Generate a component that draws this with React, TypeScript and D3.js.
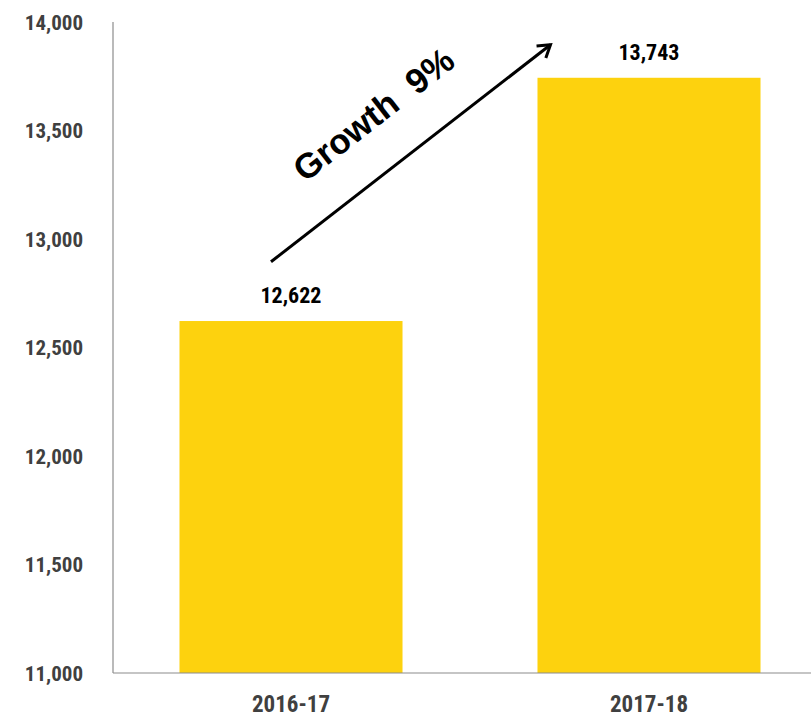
import React from "react";
import * as d3 from "d3";

const categories = ["2016-17", "2017-18"];
const values = [12622, 13743];
const valueLabels = ["12,622", "13,743"];
const yTicks = [11000, 11500, 12000, 12500, 13000, 13500, 14000];
const annotation = "Growth  9%";

const W = 811;
const H = 717;
const left = 113;
const top = 22;
const bottom = 673;

export default function App() {
  const y = d3.scaleLinear().domain([11000, 14000]).range([bottom, top]);
  const x = d3
    .scaleBand<string>()
    .domain(categories)
    .range([112, 828])
    .paddingInner(0.377)
    .paddingOuter(0.1885);
  const fmt = d3.format(",");
  const narrow = "'Liberation Sans Narrow', 'Arial Narrow', 'Roboto Condensed', sans-serif";

  const x0 = (x(categories[0]) as number) + x.bandwidth() / 2 - 20;
  const y0 = y(12895);
  const x1 = (x(categories[1]) as number) + 13;
  const y1 = y(13895);
  const ang = Math.atan2(y1 - y0, x1 - x0);
  const angDeg = (ang * 180) / Math.PI;
  const headLen = 14;
  const hA = Math.PI / 5.5;
  const h1 = [x1 - headLen * Math.cos(ang - hA), y1 - headLen * Math.sin(ang - hA)];
  const h2 = [x1 - headLen * Math.cos(ang + hA), y1 - headLen * Math.sin(ang + hA)];

  const tx = 381;
  const ty = 124;

  return (
    <svg width={W} height={H} style={{ position: "absolute", left: 0, top: 0, background: "#fff" }}>
      {categories.map((c, i) => (
        <rect
          key={c}
          x={x(c)}
          y={y(values[i])}
          width={x.bandwidth()}
          height={bottom - y(values[i])}
          fill="#FDD20E"
        />
      ))}
      <line x1={left} x2={left} y1={top} y2={bottom} stroke="#8c8c8c" strokeWidth={1.2} />
      <line x1={left} x2={W} y1={bottom} y2={bottom} stroke="#8c8c8c" strokeWidth={1.2} />
      {yTicks.map((t) => (
        <text
          key={t}
          x={83}
          y={y(t)}
          dy="0.36em"
          textAnchor="end"
          fontFamily={narrow}
          fontWeight="bold"
          fontSize={21}
          fill="#404040"
        >
          {fmt(t)}
        </text>
      ))}
      {categories.map((c) => (
        <text
          key={c}
          x={(x(c) as number) + x.bandwidth() / 2}
          y={712}
          textAnchor="middle"
          fontFamily={narrow}
          fontWeight="bold"
          fontSize={23}
          fill="#404040"
        >
          {c}
        </text>
      ))}
      {categories.map((c, i) => (
        <text
          key={c + "v"}
          x={(x(c) as number) + x.bandwidth() / 2}
          y={y(values[i]) - 18}
          textAnchor="middle"
          fontFamily={narrow}
          fontWeight="bold"
          fontSize={22}
          fill="#000"
        >
          {valueLabels[i]}
        </text>
      ))}
      <line x1={x0} y1={y0} x2={x1} y2={y1} stroke="#000" strokeWidth={3} />
      <polyline
        points={`${h1[0]},${h1[1]} ${x1},${y1} ${h2[0]},${h2[1]}`}
        fill="none"
        stroke="#000"
        strokeWidth={3}
      />
      <text
        x={tx}
        y={ty}
        textAnchor="middle"
        transform={`rotate(${angDeg} ${tx} ${ty})`}
        fontFamily="'Liberation Sans', Arial, sans-serif"
        fontWeight="bold"
        fontSize={35}
        fill="#000"
        style={{ whiteSpace: "pre" }}
        xmlSpace="preserve"
      >
        {annotation}
      </text>
    </svg>
  );
}
